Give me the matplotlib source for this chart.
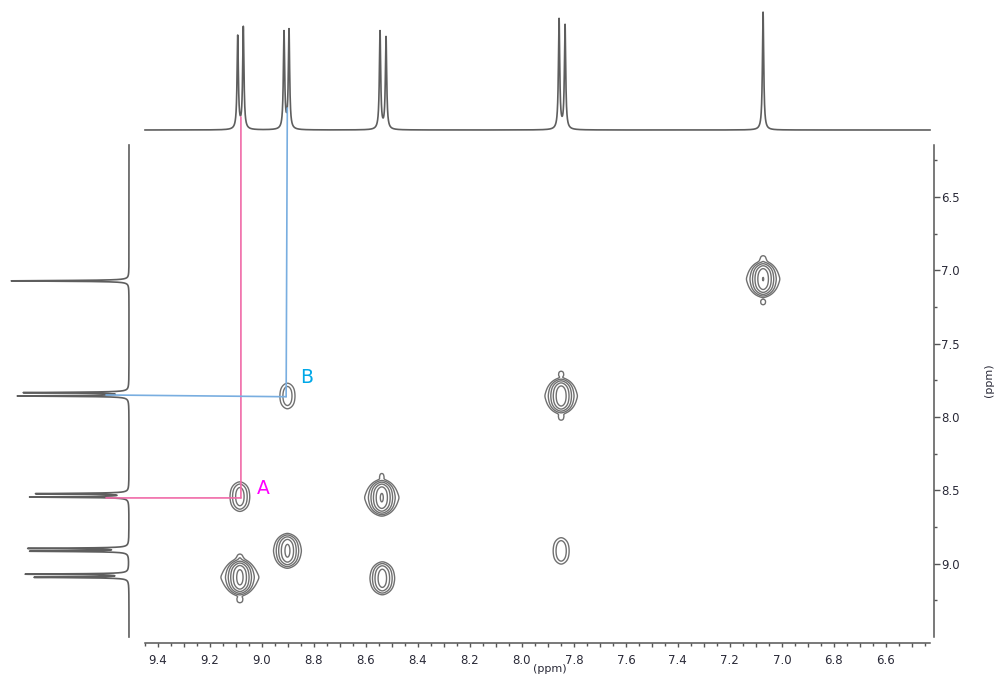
import numpy as np
import matplotlib
matplotlib.use('Agg')
import matplotlib.pyplot as plt
from matplotlib.ticker import MultipleLocator, FixedLocator, FuncFormatter
from matplotlib.patches import ConnectionPatch

# 1D proton lines (ppm, intensity) shared by top and left projections
line_ppm = [9.0933, 9.0718, 8.9152, 8.8960, 8.5458, 8.5227, 7.8570, 7.8340, 7.0722]
line_height = [93, 102, 97, 99, 98, 92, 110, 104, 118]
LINE_HW = 0.003

# COSY cross peaks: f2 (x) ppm, f1 (y) ppm, amplitude
cross_x = [9.085, 8.902, 8.539, 7.849, 7.072, 9.085, 8.902, 8.537, 7.849]
cross_y = [9.093, 8.912, 8.550, 7.857, 7.060, 8.543, 7.857, 9.100, 8.913]
cross_amp = [1.0, 0.45, 0.8, 0.7, 0.75, 0.15, 0.08, 0.3, 0.09]

# small t1 artefacts above/below the diagonal peaks
sat_x = [9.085, 9.085, 8.539, 7.849, 7.849, 7.072, 7.072]
sat_y = [8.952, 9.248, 8.400, 7.705, 8.005, 6.918, 7.218]
sat_amp = [0.032, 0.04, 0.03, 0.036, 0.036, 0.036, 0.036]

# guide lines for assignments A (pink) and B (blue)
guide_top = [(9.081, 13), (8.9025, 22)]
guide_cross = [(9.081, 8.552), (8.907, 7.862)]
guide_left = [(23, 8.552), (23, 7.850)]
guide_colors = ['#f06aa8', '#79aee0']
labels = ['A', 'B']
label_pos = [(8.996, 8.49), (8.828, 7.731)]
label_colors = ['#ff00ff', '#00a8e8']

y_ticks = [6.5, 7.0, 7.5, 8.0, 8.5, 9.0]
y_minor = [6.25, 6.75, 7.25, 7.75, 8.25, 8.75, 9.25]

XLIM = (9.45, 6.43)
YLIM = (9.5, 6.146)
levels = 0.025 * 2.0 ** np.arange(6)


def spectrum(grid):
    out = np.zeros_like(grid)
    for c, h in zip(line_ppm, line_height):
        out += h * LINE_HW**2 / ((grid - c)**2 + LINE_HW**2)
    return out


def cross(X, Y, xs, ys, amps, sx, gl, sy, ped=0.0):
    Z = np.zeros_like(X)
    for x0, y0, a in zip(xs, ys, amps):
        dx = X - x0
        dy = Y - y0
        xp = 0.6 * np.exp(-dx**2 / (2 * sx**2)) + 0.4 * gl**2 / (dx**2 + gl**2)
        yp = np.exp(-(np.abs(dy) / sy)**3)
        # broad pedestal gives the diamond-shaped outer contour
        pd = 1 / (1 + (dx / (1.5 * gl))**2) / (1 + (dy / (2.3 * sy / 6))**2)
        Z += a * (xp * yp + ped * pd)
    return Z


fig = plt.figure(figsize=(9.99, 6.78), dpi=100)
W, H = 999, 678
ax = fig.add_axes([145 / W, 1 - 637 / H, 785 / W, 492 / H])
axt = fig.add_axes([145 / W, 1 - 130 / H, 785 / W, 130 / H])
axl = fig.add_axes([0, 1 - 637 / H, 129 / W, 492 / H])

# top projection
gx_ = np.linspace(XLIM[0], XLIM[1], 12000)
axt.plot(gx_, spectrum(gx_), color='#5e5e5e', lw=1.2, clip_on=False)
axt.set_xlim(XLIM)
axt.set_ylim(0, 130)
axt.axis('off')

# left projection
gy_ = np.linspace(YLIM[1], YLIM[0], 12000)
axl.plot(spectrum(gy_), gy_, color='#5e5e5e', lw=1.2, clip_on=False)
axl.set_xlim(129, 0)
axl.set_ylim(YLIM)
axl.axis('off')

# 2D contour map
X, Y = np.meshgrid(np.linspace(XLIM[0], XLIM[1], 1400), np.linspace(YLIM[1], YLIM[0], 1100))
Z = cross(X, Y, cross_x, cross_y, cross_amp, 0.0192, 0.0154, 0.082, ped=0.08)
Z += cross(X, Y, sat_x, sat_y, sat_amp, 0.012, 0.008, 0.022)
ax.contour(X, Y, Z, levels=levels, colors='#707070', linewidths=1.0)
ax.set_xlim(XLIM)
ax.set_ylim(YLIM)

for s in ['left', 'top']:
    ax.spines[s].set_visible(False)
ax.spines['bottom'].set_position(('outward', 4.3))
ax.spines['right'].set_position(('outward', 2.9))
for s in ['bottom', 'right']:
    ax.spines[s].set_color('#555555')
    ax.spines[s].set_linewidth(1.1)

ax.xaxis.set_major_locator(MultipleLocator(0.1))
ax.xaxis.set_minor_locator(MultipleLocator(0.05))
ax.xaxis.set_major_formatter(FuncFormatter(
    lambda v, p: f'{v:.1f}' if int(round(v * 10)) % 2 == 0 else ''))
ax.yaxis.tick_right()
ax.yaxis.set_major_locator(FixedLocator(y_ticks))
ax.yaxis.set_minor_locator(FixedLocator(y_minor))
ax.yaxis.set_major_formatter(FuncFormatter(lambda v, p: f'{v:.1f}'))
ax.tick_params(which='major', direction='out', length=3.2, width=1, color='#555555',
               labelsize=8.5, labelcolor='#2a2a38', pad=4.5)
ax.tick_params(which='minor', direction='out', length=2, width=1, color='#555555')
ax.tick_params(axis='y', which='major', length=4, pad=1)

fig.text(550 / W, 1 - 669 / H, '(ppm)', ha='center', va='center', fontsize=8, color='#2a2a38')
fig.text(989 / W, 1 - 380 / H, '(ppm)', ha='center', va='center', fontsize=8,
         color='#2a2a38', rotation=90)

for top, mid, left, c in zip(guide_top, guide_cross, guide_left, guide_colors):
    fig.add_artist(ConnectionPatch(xyA=top, coordsA=axt.transData, xyB=mid,
                                   coordsB=ax.transData, color=c, lw=1.2))
    fig.add_artist(ConnectionPatch(xyA=mid, coordsA=ax.transData, xyB=left,
                                   coordsB=axl.transData, color=c, lw=1.2))

for t, (x, y), c in zip(labels, label_pos, label_colors):
    ax.text(x, y, t, ha='center', va='center', fontsize=13.5, color=c)

fig.savefig('out.png', dpi=100)
